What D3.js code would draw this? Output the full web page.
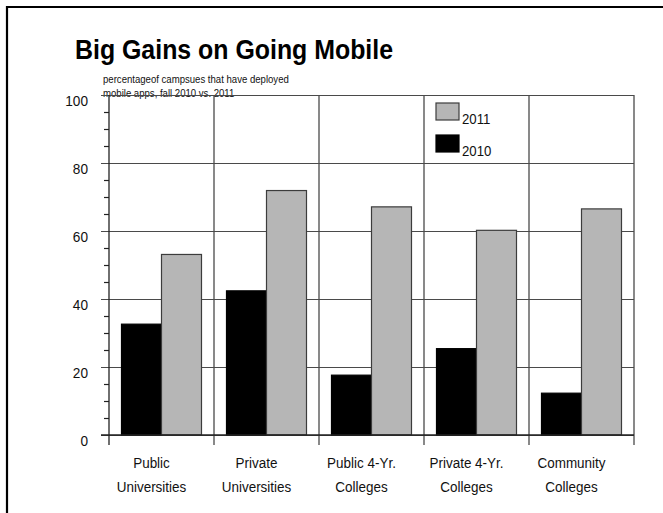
<!DOCTYPE html>
<html>
<head>
<meta charset="utf-8">
<script src="https://cdn.jsdelivr.net/npm/d3@7"></script>
<style>
  body { margin: 0; background: #fff; }
  text { font-family: "Liberation Sans", Arial, sans-serif; fill: #111; }
</style>
</head>
<body>
<div id="chart"></div>
<script>
// data
const categories = ["Public Universities", "Private Universities", "Public 4-Yr. Colleges", "Private 4-Yr. Colleges", "Community Colleges"];
const categoryLines = [["Public", "Universities"], ["Private", "Universities"], ["Public 4-Yr.", "Colleges"], ["Private 4-Yr.", "Colleges"], ["Community", "Colleges"]];
const series = ["2010", "2011"];
const values2010 = [32.6, 42.4, 17.6, 25.4, 12.3];
const values2011 = [53.1, 71.9, 67.1, 60.2, 66.5];
const majorTicks = [0, 20, 40, 60, 80, 100];
const minorTicks = d3.range(5, 100, 5).filter(v => v % 20 !== 0);

const width = 663, height = 513;
const plotLeft = 109, plotRight = 634, plotTop = 95, plotBottom = 435;
const squeeze = 0.88; // the original text is a bit narrow

const colors = { "2010": "#000", "2011": "#b6b6b6" };
const grid = "#4a4a4a";

const svg = d3.select("#chart").append("svg")
  .attr("width", width)
  .attr("height", height);

// frame (only top and left edges show)
svg.append("path")
  .attr("d", `M7,${height + 5} V7 H${width + 5}`)
  .attr("fill", "none")
  .attr("stroke", "#000")
  .attr("stroke-width", 2.2);

function narrowText(sel, x, y) {
  sel.attr("transform", `translate(${x},${y}) scale(${squeeze},1)`);
  return sel;
}

// title
narrowText(svg.append("text"), 75, 59)
  .attr("font-size", 28.3)
  .attr("font-weight", "bold")
  .style("fill", "#000")
  .text("Big Gains on Going Mobile");

narrowText(svg.append("text"), 103, 83)
  .attr("font-size", 10.9)
  .text("percentageof campsues that have deployed");
narrowText(svg.append("text"), 103, 97)
  .attr("font-size", 10.9)
  .text("mobile apps, fall 2010 vs. 2011");

const x = d3.scaleBand()
  .domain(categories)
  .range([plotLeft, plotRight])
  .padding(0);

const xs = d3.scaleBand()
  .domain(series)
  .range([0, x.bandwidth()])
  .paddingInner(0)
  .paddingOuter(0.3125);

const y = d3.scaleLinear()
  .domain([0, 100])
  .range([plotBottom, plotTop]);

// horizontal grid + major ticks
const gridAxis = d3.axisLeft(y)
  .tickValues(majorTicks)
  .tickSize(-(plotRight - plotLeft))
  .tickFormat("");
svg.append("g")
  .attr("transform", `translate(${plotLeft},0)`)
  .call(gridAxis)
  .call(g => g.select(".domain").remove())
  .call(g => g.selectAll("line").attr("stroke", grid).attr("stroke-width", 1.2).attr("x1", -8));

// minor ticks
svg.append("g")
  .attr("transform", `translate(${plotLeft},0)`)
  .call(d3.axisLeft(y).tickValues(minorTicks).tickSize(5).tickFormat(""))
  .call(g => g.select(".domain").remove())
  .call(g => g.selectAll("line").attr("stroke", "#222").attr("stroke-width", 1.2));

// y labels
svg.append("g")
  .attr("transform", `translate(${plotLeft},0)`)
  .call(d3.axisLeft(y).tickValues(majorTicks).tickSize(0).tickPadding(21))
  .call(g => g.select(".domain").remove())
  .call(g => g.selectAll("text")
    .attr("font-size", 15.5)
    .attr("font-family", null)
    .attr("fill", null)
    .each(function () {
      const t = d3.select(this);
      const tx = +t.attr("x");
      t.attr("x", 0).attr("dy", "0.32em")
        .attr("transform", `translate(${tx},6) scale(${squeeze},1)`);
    }));

// bars
const rows = categories.map((c, i) => ({ category: c, values: [
  { key: "2010", value: values2010[i] },
  { key: "2011", value: values2011[i] }
]}));

const groups = svg.append("g")
  .selectAll("g")
  .data(rows)
  .join("g")
  .attr("transform", d => `translate(${x(d.category)},0)`);

groups.selectAll("rect")
  .data(d => d.values)
  .join("rect")
  .attr("x", d => xs(d.key))
  .attr("width", xs.bandwidth())
  .attr("y", d => y(d.value))
  .attr("height", d => y(0) - y(d.value))
  .attr("fill", d => colors[d.key])
  .attr("stroke", d => d.key === "2011" ? "#3c3c3c" : "#000")
  .attr("stroke-width", 1.2);

// vertical lines at category edges, with ticks below the axis
const edges = categories.map(c => x(c)).concat([x.range()[1]]);
svg.append("g")
  .selectAll("line")
  .data(edges)
  .join("line")
  .attr("x1", d => d).attr("x2", d => d)
  .attr("y1", plotTop).attr("y2", plotBottom + 10)
  .attr("stroke", (d, i) => i === 0 ? "#222" : grid)
  .attr("stroke-width", 1.3);

// baseline
svg.append("line")
  .attr("x1", plotLeft - 8).attr("x2", plotRight)
  .attr("y1", y(0)).attr("y2", y(0))
  .attr("stroke", "#222")
  .attr("stroke-width", 1.3);

// category labels
const labels = svg.append("g")
  .selectAll("g")
  .data(categories)
  .join("g");

labels.each(function (c, i) {
  const cx = x(c) + x.bandwidth() / 2 - 10;
  categoryLines[i].forEach((line, j) => {
    narrowText(d3.select(this).append("text"), cx, plotBottom + 33 + j * 23.5)
      .attr("font-size", 15.3)
      .attr("text-anchor", "middle")
      .text(line);
  });
});

// legend
const legendItems = [
  { key: "2011", y: 103 },
  { key: "2010", y: 135 }
];
const legend = svg.append("g")
  .selectAll("g")
  .data(legendItems)
  .join("g")
  .attr("transform", d => `translate(436,${d.y})`);

legend.append("rect")
  .attr("width", 23)
  .attr("height", 17)
  .attr("fill", d => colors[d.key])
  .attr("stroke", d => d.key === "2011" ? "#3c3c3c" : "#000")
  .attr("stroke-width", 1.2);

legend.each(function (d) {
  narrowText(d3.select(this).append("text"), 26, 21)
    .attr("font-size", 15)
    .text(d.key);
});
</script>
</body>
</html>
